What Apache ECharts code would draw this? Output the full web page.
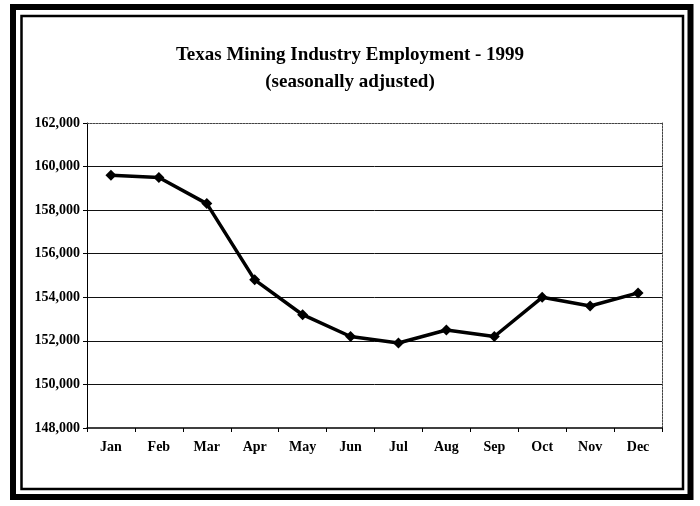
<!DOCTYPE html>
<html>
<head>
<meta charset="utf-8">
<script src="https://cdn.jsdelivr.net/npm/echarts@6/dist/echarts.min.js"></script>
<style>html,body{margin:0;padding:0;background:#fff;}#c{width:700px;height:506px;}</style>
</head>
<body>
<div id="c"></div>
<script>
const months = ['Jan','Feb','Mar','Apr','May','Jun','Jul','Aug','Sep','Oct','Nov','Dec'];
const employment = [159600, 159500, 158300, 154800, 153200, 152200, 151900, 152500, 152200, 154000, 153600, 154200];
const yMin = 148000, yMax = 162000, yStep = 2000;
const titleText = 'Texas Mining Industry Employment - 1999';
const subtitleText = '(seasonally adjusted)';

const FONT = 'Liberation Serif';
const chart = echarts.init(document.getElementById('c'), null, {renderer: 'canvas'});
chart.setOption({
  backgroundColor: '#fff',
  animation: false,
  title: [
    {text: titleText, left: 'center', top: 41, textStyle: {fontFamily: FONT, fontWeight: 'bold', fontSize: 19, color: '#000'}},
    {text: subtitleText, left: 'center', top: 68, textStyle: {fontFamily: FONT, fontWeight: 'bold', fontSize: 19, color: '#000'}}
  ],
  graphic: [
    {type: 'rect', shape: {x: 13, y: 7, width: 677.5, height: 490}, style: {fill: 'none', stroke: '#000', lineWidth: 6}, silent: true},
    {type: 'rect', shape: {x: 21.5, y: 16, width: 661.5, height: 473}, style: {fill: 'none', stroke: '#000', lineWidth: 2.5}, silent: true}
  ],
  grid: {left: 87, right: 38, top: 123, bottom: 78, containLabel: false},
  xAxis: [
    {
      type: 'category', data: months, boundaryGap: true, position: 'bottom',
      axisLine: {lineStyle: {color: '#000', width: 1.5}},
      axisTick: {show: true, length: 4, inside: false, lineStyle: {color: '#000'}},
      axisLabel: {fontFamily: FONT, fontWeight: 'bold', fontSize: 14, color: '#000', margin: 12, interval: 0},
      splitLine: {show: false}
    },
    {
      type: 'category', data: months, position: 'top',
      axisLine: {lineStyle: {color: '#444', width: 1, type: [2, 1]}},
      axisTick: {show: false}, axisLabel: {show: false}, splitLine: {show: false}
    }
  ],
  yAxis: [
    {
      type: 'value', min: yMin, max: yMax, interval: yStep,
      axisLine: {show: true, lineStyle: {color: '#000', width: 1}},
      axisTick: {show: true, length: 4, inside: false, lineStyle: {color: '#000'}},
      axisLabel: {fontFamily: FONT, fontWeight: 'bold', fontSize: 14, color: '#000', margin: 7,
        formatter: v => v.toLocaleString('en-US')},
      splitLine: {show: true, showMaxLine: false, showMinLine: false, lineStyle: {color: '#111', width: 1}}
    },
    {
      type: 'value', min: yMin, max: yMax, interval: yStep, position: 'right',
      axisLine: {show: true, lineStyle: {color: '#444', width: 1, type: [2, 1]}},
      axisTick: {show: false}, axisLabel: {show: false}, splitLine: {show: false}
    }
  ],
  series: [{
    type: 'line', data: employment, xAxisIndex: 0, yAxisIndex: 0,
    lineStyle: {color: '#000', width: 3.5},
    itemStyle: {color: '#000'},
    symbol: 'diamond', symbolSize: 11, showSymbol: true
  }]
});
</script>
</body>
</html>
